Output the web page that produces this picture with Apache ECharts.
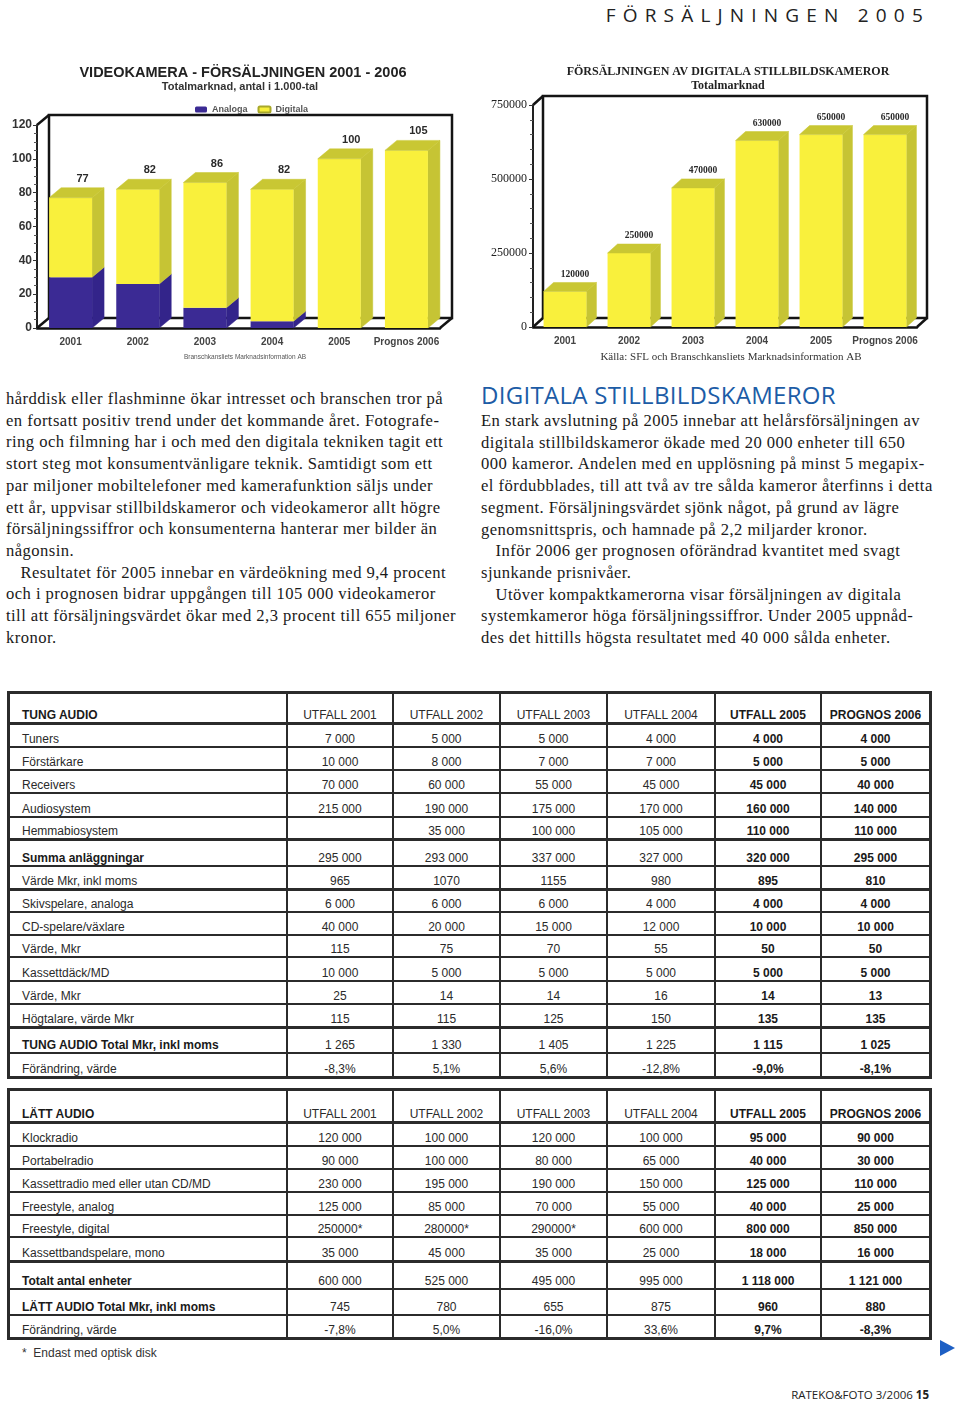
<!DOCTYPE html>
<html><head><meta charset="utf-8">
<script src="https://cdn.jsdelivr.net/npm/echarts@6/dist/echarts.min.js"></script>
<style>
body{margin:0;background:#fff;}
#page{position:relative;width:960px;height:1405px;overflow:hidden;background:#fff;}
.txt{position:absolute;white-space:nowrap;font-family:'Liberation Serif',serif;font-size:16.6px;letter-spacing:0.45px;line-height:21.7px;color:#1a1a1a;}
.cell{position:absolute;white-space:nowrap;font-family:'Liberation Sans',Arial,sans-serif;font-size:12px;line-height:14px;height:14px;color:#2a2a2a;}
.hl,.vl{position:absolute;background:#2b2b2b;}
</style></head><body><div id="page">
<div id="hdr" style="position:absolute;right:30px;top:2px;font-family:'Open Sans',sans-serif;font-size:19px;letter-spacing:7.2px;color:#222;white-space:nowrap;line-height:26px;">FÖRSÄLJNINGEN 2005</div>
<div id="chartL" style="position:absolute;left:0;top:55px;width:475px;height:315px;"></div>
<div id="chartR" style="position:absolute;left:480px;top:55px;width:470px;height:315px;"></div>
<div id="heading" style="position:absolute;left:481px;top:380px;font-family:'Open Sans',sans-serif;font-size:24px;line-height:30px;color:#1c5ca6;white-space:nowrap;letter-spacing:0.3px;">DIGITALA STILLBILDSKAMEROR</div>
<div id="texts"></div>
<div id="tables"></div>
<div style="position:absolute;left:22px;top:1346px;font-family:'Liberation Sans',Arial,sans-serif;font-size:12px;color:#333;white-space:nowrap;">*&nbsp; Endast med optisk disk</div>
<div style="position:absolute;left:940px;top:1340px;width:0;height:0;border-top:8px solid transparent;border-bottom:8px solid transparent;border-left:15px solid #1d5fc4;"></div>
<div style="position:absolute;right:31px;top:1387px;font-family:'Open Sans',sans-serif;font-size:11.5px;color:#222;white-space:nowrap;">RATEKO&amp;FOTO 3/2006 <b>15</b></div>
</div>
<script>
// ---------- chart data ----------
const videoYears = ['2001', '2002', '2003', '2004', '2005', 'Prognos 2006'];
const videoAnaloga = [30, 26, 12, 4, 0, 0];
const videoDigitala = [47, 56, 74, 78, 100, 105];
const videoTicks = [0, 20, 40, 60, 80, 100, 120];

const stillYears = ['2001', '2002', '2003', '2004', '2005', 'Prognos 2006'];
const stillValues = [120000, 250000, 470000, 630000, 650000, 650000];
const stillTicks = [0, 250000, 500000, 750000];

// ---------- table data ----------
const tableYears = ['UTFALL 2001', 'UTFALL 2002', 'UTFALL 2003', 'UTFALL 2004', 'UTFALL 2005', 'PROGNOS 2006'];
const tungLabels = ['Tuners', 'Förstärkare', 'Receivers', 'Audiosystem', 'Hemmabiosystem', 'Summa anläggningar', 'Värde Mkr, inkl moms', 'Skivspelare, analoga', 'CD-spelare/växlare', 'Värde, Mkr', 'Kassettdäck/MD', 'Värde, Mkr', 'Högtalare, värde Mkr', 'TUNG AUDIO Total Mkr, inkl moms', 'Förändring, värde'];
const tung2001 = ['7 000', '10 000', '70 000', '215 000', '', '295 000', '965', '6 000', '40 000', '115', '10 000', '25', '115', '1 265', '-8,3%'];
const tung2002 = ['5 000', '8 000', '60 000', '190 000', '35 000', '293 000', '1070', '6 000', '20 000', '75', '5 000', '14', '115', '1 330', '5,1%'];
const tung2003 = ['5 000', '7 000', '55 000', '175 000', '100 000', '337 000', '1155', '6 000', '15 000', '70', '5 000', '14', '125', '1 405', '5,6%'];
const tung2004 = ['4 000', '7 000', '45 000', '170 000', '105 000', '327 000', '980', '4 000', '12 000', '55', '5 000', '16', '150', '1 225', '-12,8%'];
const tung2005 = ['4 000', '5 000', '45 000', '160 000', '110 000', '320 000', '895', '4 000', '10 000', '50', '5 000', '14', '135', '1 115', '-9,0%'];
const tung2006 = ['4 000', '5 000', '40 000', '140 000', '110 000', '295 000', '810', '4 000', '10 000', '50', '5 000', '13', '135', '1 025', '-8,1%'];

const lattLabels = ['Klockradio', 'Portabelradio', 'Kassettradio med eller utan CD/MD', 'Freestyle, analog', 'Freestyle, digital', 'Kassettbandspelare, mono', 'Totalt antal enheter', 'LÄTT AUDIO Total Mkr, inkl moms', 'Förändring, värde'];
const latt2001 = ['120 000', '90 000', '230 000', '125 000', '250000*', '35 000', '600 000', '745', '-7,8%'];
const latt2002 = ['100 000', '100 000', '195 000', '85 000', '280000*', '45 000', '525 000', '780', '5,0%'];
const latt2003 = ['120 000', '80 000', '190 000', '70 000', '290000*', '35 000', '495 000', '655', '-16,0%'];
const latt2004 = ['100 000', '65 000', '150 000', '55 000', '600 000', '25 000', '995 000', '875', '33,6%'];
const latt2005 = ['95 000', '40 000', '125 000', '40 000', '800 000', '18 000', '1 118 000', '960', '9,7%'];
const latt2006 = ['90 000', '30 000', '110 000', '25 000', '850 000', '16 000', '1 121 000', '880', '-8,3%'];

// ---------- body text ----------
const leftLines = [
  'hårddisk eller flashminne ökar intresset och branschen tror på',
  'en fortsatt positiv trend under det kommande året. Fotografe-',
  'ring och filmning har i och med den digitala tekniken tagit ett',
  'stort steg mot konsumentvänligare teknik. Samtidigt som ett',
  'par miljoner mobiltelefoner med kamerafunktion säljs under',
  'ett år, uppvisar stillbildskameror och videokameror allt högre',
  'försäljningssiffror och konsumenterna hanterar mer bilder än',
  'någonsin.',
  '\u2003Resultatet för 2005 innebar en värdeökning med 9,4 procent',
  'och i prognosen bidrar uppgången till 105 000 videokameror',
  'till att försäljningsvärdet ökar med 2,3 procent till 655 miljoner',
  'kronor.'
];
const rightLines = [
  'En stark avslutning på 2005 innebar att helårsförsäljningen av',
  'digitala stillbildskameror ökade med 20 000 enheter till 650',
  '000 kameror. Andelen med en upplösning på minst 5 megapix-',
  'el fördubblades, till att två av tre sålda kameror återfinns i detta',
  'segment. Försäljningsvärdet sjönk något, på grund av lägre',
  'genomsnittspris, och hamnade på 2,2 miljarder kronor.',
  '\u2003Inför 2006 ger prognosen oförändrad kvantitet med svagt',
  'sjunkande prisnivåer.',
  '\u2003Utöver kompaktkamerorna visar försäljningen av digitala',
  'systemkameror höga försäljningssiffror. Under 2005 uppnåd-',
  'des det hittills högsta resultatet med 40 000 sålda enheter.'
];

// ---------- render text ----------
(function () {
  const box = document.getElementById('texts');
  function put(lines, x, y0) {
    lines.forEach((t, i) => {
      const d = document.createElement('div');
      d.className = 'txt';
      d.style.left = x + 'px';
      d.style.top = (y0 + i * 21.7) + 'px';
      if (t.startsWith('\u2003')) { t = t.slice(1); d.style.left = (x + 14.5) + 'px'; }
      d.textContent = t;
      box.appendChild(d);
    });
  }
  put(leftLines, 6, 388);
  put(rightLines, 481, 410);
})();

// ---------- render tables ----------
(function () {
  const box = document.getElementById('tables');
  const colEdges = [8, 287, 393, 500, 607, 715, 821, 930];
  function hline(y, w, x0, x1) {
    const d = document.createElement('div'); d.className = 'hl';
    d.style.left = x0 + 'px'; d.style.width = (x1 - x0) + 'px';
    d.style.top = (y - w / 2) + 'px'; d.style.height = w + 'px';
    box.appendChild(d);
  }
  function vline(x, y0, y1, w) {
    const d = document.createElement('div'); d.className = 'vl';
    d.style.left = (x - w / 2) + 'px'; d.style.width = w + 'px';
    d.style.top = y0 + 'px'; d.style.height = (y1 - y0) + 'px';
    box.appendChild(d);
  }
  function cell(text, x0, x1, bottom, bold, align) {
    const d = document.createElement('div'); d.className = 'cell';
    d.textContent = text;
    d.style.top = (bottom - 15) + 'px';
    if (align === 'left') { d.style.left = (x0 + 14) + 'px'; }
    else { d.style.left = x0 + 'px'; d.style.width = (x1 - x0) + 'px'; d.style.textAlign = 'center'; }
    if (bold) { d.style.fontWeight = 'bold'; d.style.color = '#1a1a1a'; }
    box.appendChild(d);
  }
  function table(top, heights, title, labels, cols, boldRows, thickAfter) {
    const bounds = [top];
    heights.forEach(h => bounds.push(bounds[bounds.length - 1] + h));
    const x0 = colEdges[0], x1 = colEdges[colEdges.length - 1];
    cell(title, colEdges[0], colEdges[1], bounds[1], true, 'left');
    tableYears.forEach((y, j) => cell(y, colEdges[j + 1], colEdges[j + 2], bounds[1], j >= 4, 'center'));
    labels.forEach((lab, i) => {
      const b = bounds[i + 2];
      cell(lab, colEdges[0], colEdges[1], b, boldRows.includes(i), 'left');
      cols.forEach((c, j) => cell(c[i], colEdges[j + 1], colEdges[j + 2], b, j >= 4, 'center'));
    });
    bounds.forEach((y, k) => {
      const w = (k === 0 || k === bounds.length - 1) ? 3 : (thickAfter.includes(k) ? 3 : 1.8);
      hline(y, w, x0 - 1.5, x1 + 1.5);
    });
    colEdges.forEach((x, k) => vline(x, top, bounds[bounds.length - 1], (k === 0 || k === colEdges.length - 1) ? 3 : 2));
  }
  table(692, [31, 24, 23, 23, 24, 22, 27, 23, 23, 23, 22, 24, 23, 23, 26, 24], 'TUNG AUDIO', tungLabels,
    [tung2001, tung2002, tung2003, tung2004, tung2005, tung2006], [5, 13], [1, 6, 8, 14]);
  table(1089, [33, 24, 23, 23, 23, 22, 24, 28, 26, 23], 'LÄTT AUDIO', lattLabels,
    [latt2001, latt2002, latt2003, latt2004, latt2005, latt2006], [6, 7], [1, 7]);
})();

// ---------- 3D bar renderer ----------
function bar3D(cfg) {
  return function (params, api) {
    const cat = api.value(0), lo = api.value(1), hi = api.value(2);
    if (!(hi > lo)) return null;
    const pLo = api.coord([cat, lo]), pHi = api.coord([cat, hi]);
    const bw = api.size([1, 0])[0] * cfg.ratio;
    const x0 = pLo[0] - bw / 2, x1 = x0 + bw, yb = pLo[1], yt = pHi[1];
    const dx = cfg.dx, dy = cfg.dy;
    const ch = [
      { type: 'polygon', shape: { points: [[x1, yt], [x1 + dx, yt + dy], [x1 + dx, yb + dy], [x1, yb]] }, style: { fill: cfg.side, stroke: cfg.side, lineWidth: 0.5 } },
      { type: 'rect', shape: { x: x0, y: yt, width: bw, height: yb - yt }, style: { fill: cfg.front } }
    ];
    if (cfg.top) {
      ch.push({ type: 'polygon', shape: { points: [[x0, yt], [x0 + dx, yt + dy], [x1 + dx, yt + dy], [x1, yt]] }, style: { fill: cfg.top, stroke: cfg.top, lineWidth: 0.5 } });
      ch.push({ type: 'text', x: (x0 + x1) / 2 + dx, y: yt + dy - cfg.labelGap, style: { text: String(api.value(3)), fill: '#2a2a2a', font: cfg.labelFont, align: 'center', verticalAlign: 'middle' } });
    }
    return { type: 'group', children: ch };
  };
}

// ---------- left chart ----------
(function () {
  const chart = echarts.init(document.getElementById('chartL'), null, { renderer: 'canvas' });
  const L = 37, T = 70, W = 403, H = 203, dx = 12, dy = -10;
  const analogData = videoAnaloga.map((v, i) => [i, 0, v, v]);
  const digitalData = videoDigitala.map((v, i) => [i, videoAnaloga[i], videoAnaloga[i] + v, videoAnaloga[i] + v]);
  const frame = { stroke: '#141414', lineWidth: 2.5, fill: null };
  chart.setOption({
    animation: false,
    grid: { left: L, top: T, width: W, height: H },
    legend: {
      data: ['Analoga', 'Digitala'], left: 190, top: 45, itemWidth: 12, itemHeight: 6, itemGap: 10,
      textStyle: { fontSize: 9, fontWeight: 'bold', color: '#555', fontFamily: 'Liberation Sans' }
    },
    xAxis: {
      type: 'category', data: videoYears,
      axisLine: { lineStyle: { color: '#111', width: 2.5 } }, axisTick: { show: false },
      axisLabel: { interval: 0, fontSize: 10, fontWeight: 'bold', color: '#444', margin: 9, fontFamily: 'Liberation Sans' }
    },
    yAxis: {
      type: 'value', min: videoTicks[0], max: videoTicks[videoTicks.length - 1], interval: videoTicks[1] - videoTicks[0],
      axisLine: { show: true, lineStyle: { color: '#222', width: 2 } },
      axisTick: { show: true, length: 4, lineStyle: { color: '#333' } },
      minorTick: { show: true, splitNumber: 4, length: 3, lineStyle: { color: '#555' } },
      splitLine: { show: false },
      axisLabel: { fontSize: 12, fontWeight: 'bold', color: '#333', margin: 5, fontFamily: 'Liberation Sans' }
    },
    graphic: [
      { type: 'rect', z: 0, shape: { x: L + dx, y: T + dy, width: W, height: H }, style: frame },
      { type: 'line', z: 0, shape: { x1: L, y1: T + H, x2: L + dx, y2: T + H + dy }, style: frame },
      { type: 'line', z: 0, shape: { x1: L, y1: T, x2: L + dx, y2: T + dy }, style: frame },
      { type: 'line', z: 0, shape: { x1: L + W, y1: T + H, x2: L + W + dx, y2: T + H + dy }, style: frame },
      { type: 'text', x: 243, y: 18, style: { text: 'VIDEOKAMERA - FÖRSÄLJNINGEN 2001 - 2006', font: 'bold 14.5px "Liberation Sans"', fill: '#222', align: 'center', verticalAlign: 'middle' } },
      { type: 'text', x: 240, y: 32, style: { text: 'Totalmarknad, antal i 1.000-tal', font: 'bold 11px "Liberation Sans"', fill: '#333', align: 'center', verticalAlign: 'middle' } },
      { type: 'text', x: 245, y: 302, style: { text: 'Branschkansliets Marknadsinformation AB', font: '6.5px "Liberation Sans"', fill: '#555', align: 'center', verticalAlign: 'middle' } }
    ],
    series: [
      { name: 'Analoga', type: 'custom', z: 3, encode: { x: 0, y: [1, 2] }, data: analogData, itemStyle: { color: '#3b2a94' },
        renderItem: bar3D({ ratio: 0.64, dx: dx, dy: dy, front: '#3b2a94', side: '#33248a', top: null }) },
      { name: 'Digitala', type: 'custom', z: 4, encode: { x: 0, y: [1, 2] }, data: digitalData, itemStyle: { color: '#f7ef3a', borderColor: '#a8a82a', borderWidth: 1 },
        renderItem: bar3D({ ratio: 0.64, dx: dx, dy: dy, front: '#f9f03c', side: '#c6c434', top: '#c9c733', labelGap: 9, labelFont: 'bold 11px "Liberation Sans"' }) }
    ]
  });
})();

// ---------- right chart ----------
(function () {
  const chart = echarts.init(document.getElementById('chartR'), null, { renderer: 'canvas' });
  const L = 53, T = 50, W = 384, H = 222, dx = 10, dy = -9;
  const data = stillValues.map((v, i) => [i, 0, v, v]);
  const frame = { stroke: '#141414', lineWidth: 2.5, fill: null };
  chart.setOption({
    animation: false,
    grid: { left: L, top: T, width: W, height: H },
    xAxis: {
      type: 'category', data: stillYears,
      axisLine: { lineStyle: { color: '#111', width: 2.5 } }, axisTick: { show: false },
      axisLabel: { interval: 0, fontSize: 10, fontWeight: 'bold', color: '#444', margin: 9, fontFamily: 'Liberation Sans' }
    },
    yAxis: {
      type: 'value', min: stillTicks[0], max: stillTicks[stillTicks.length - 1], interval: stillTicks[1] - stillTicks[0],
      axisLine: { show: true, lineStyle: { color: '#222', width: 2 } },
      axisTick: { show: true, length: 4, lineStyle: { color: '#333' } },
      minorTick: { show: true, splitNumber: 5, length: 3, lineStyle: { color: '#555' } },
      splitLine: { show: false },
      axisLabel: { fontSize: 12, color: '#222', margin: 6, fontFamily: 'Liberation Serif', formatter: v => String(v) }
    },
    graphic: [
      { type: 'rect', z: 0, shape: { x: L + dx, y: T + dy, width: W, height: H }, style: frame },
      { type: 'line', z: 0, shape: { x1: L, y1: T + H, x2: L + dx, y2: T + H + dy }, style: frame },
      { type: 'line', z: 0, shape: { x1: L, y1: T, x2: L + dx, y2: T + dy }, style: frame },
      { type: 'line', z: 0, shape: { x1: L + W, y1: T + H, x2: L + W + dx, y2: T + H + dy }, style: frame },
      { type: 'text', x: 248, y: 17, style: { text: 'FÖRSÄLJNINGEN AV DIGITALA STILLBILDSKAMEROR', font: 'bold 12px "Liberation Serif"', fill: '#222', align: 'center', verticalAlign: 'middle' } },
      { type: 'text', x: 248, y: 31, style: { text: 'Totalmarknad', font: 'bold 12px "Liberation Serif"', fill: '#222', align: 'center', verticalAlign: 'middle' } },
      { type: 'text', x: 251, y: 302, style: { text: 'Källa: SFL och Branschkansliets Marknadsinformation AB', font: '11px "Liberation Serif"', fill: '#333', align: 'center', verticalAlign: 'middle' } }
    ],
    series: [
      { name: 'Digitala stillbildskameror', type: 'custom', z: 4, encode: { x: 0, y: [1, 2] }, data: data,
        renderItem: bar3D({ ratio: 0.67, dx: dx, dy: dy, front: '#f9f03c', side: '#c6c434', top: '#c9c733', labelGap: 8, labelFont: 'bold 9.5px "Liberation Serif"' }) }
    ]
  });
})();
</script>
</body></html>
